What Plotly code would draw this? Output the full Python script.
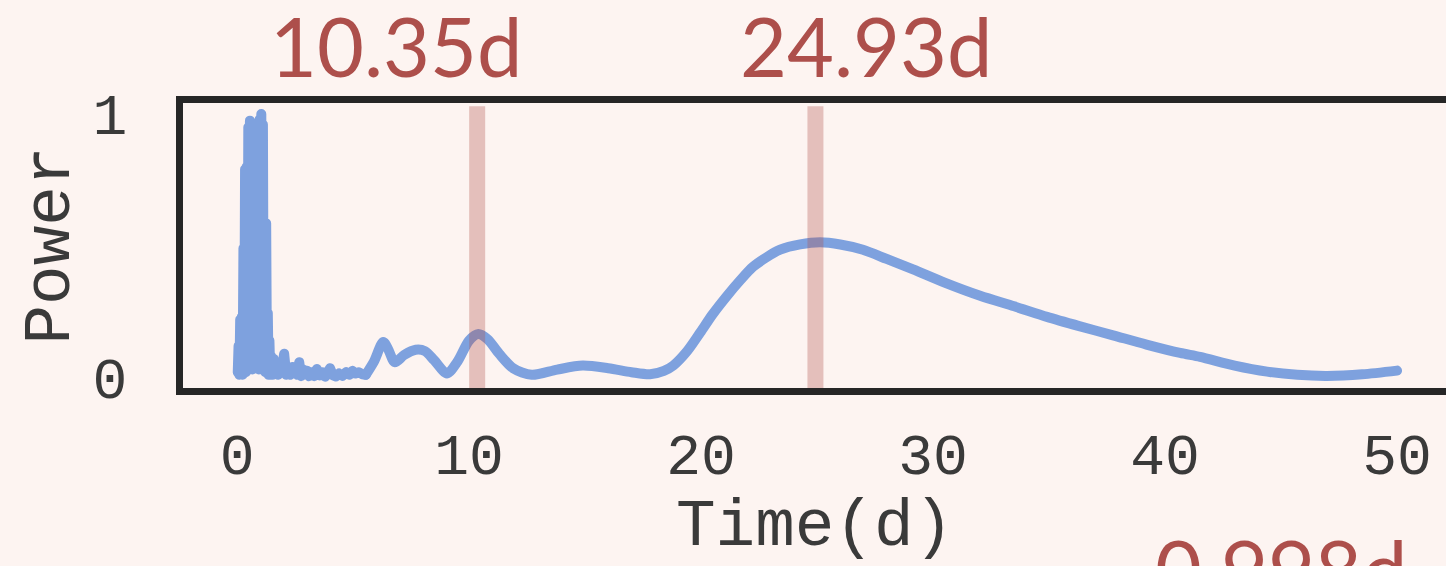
import plotly.graph_objects as go

# Power spectrum: dense short-period region drawn as straight segments,
# the long-period tail drawn as a smooth spline.
period_short = [0.030, 0.065, 0.100, 0.135, 0.170, 0.205, 0.240, 0.275, 0.310, 0.345,
                0.380, 0.415, 0.450, 0.485, 0.520, 0.555, 0.590, 0.625, 0.660, 0.695,
                0.730, 0.765, 0.800, 0.835, 0.870, 0.905, 0.940, 0.975, 1.010, 1.045,
                1.080, 1.115, 1.150, 1.185, 1.220, 1.255, 1.290, 1.325, 1.360, 1.395,
                1.430, 1.470, 1.52, 1.58, 1.64, 1.70, 1.76, 1.82, 1.88, 1.94,
                2.03, 2.12, 2.22, 2.30, 2.38, 2.47, 2.54, 2.60, 2.68, 2.76,
                2.85, 2.93, 3.02, 3.10, 3.22, 3.33, 3.44, 3.56, 3.68, 3.80,
                3.90, 4.01, 4.13, 4.26, 4.40, 4.55, 4.70, 4.85, 4.97, 5.10,
                5.25, 5.40, 5.55]
power_short = [0.02, 0.12, 0.01, 0.22, 0.02, 0.23, 0.01, 0.49, 0.03, 0.79,
               0.02, 0.80, 0.04, 0.95, 0.03, 0.975, 0.05, 0.96, 0.03, 0.90,
               0.15, 0.34, 0.15, 0.60, 0.04, 0.92, 0.03, 0.98, 0.05, 1.00,
               0.04, 0.96, 0.03, 0.585, 0.02, 0.585, 0.02, 0.245, 0.01, 0.14,
               0.02, 0.08, 0.01, 0.07, 0.02, 0.05, 0.01, 0.045, 0.02, 0.04,
               0.09, 0.01, 0.03, 0.01, 0.04, 0.02, 0.03, 0.01, 0.058, 0.005,
               0.03, 0.012, 0.025, 0.005, 0.02, 0.005, 0.032, 0.008, 0.02, 0.003,
               0.02, 0.035, 0.008, 0.004, 0.015, 0.006, 0.02, 0.01, 0.025, 0.015,
               0.02, 0.012, 0.01]

period_long = [5.55, 5.9, 6.3, 6.5, 6.8, 7.2, 7.7, 8.1, 8.5, 9.05,
               9.5, 10.0, 10.4, 10.8, 11.3, 11.9, 12.7, 13.8, 14.9, 16.0,
               17.0, 17.8, 18.4, 18.8, 19.4, 19.96, 20.5, 21.12, 21.7, 22.24,
               22.8, 23.41, 24.27, 25.13, 26.0, 26.98, 28.0, 29.14, 30.5, 32.03,
               33.5, 34.91, 36.3, 37.76, 39.2, 40.65, 41.51, 43.0, 44.4, 45.7,
               46.98, 48.5, 50.0]
power_long = [0.01, 0.06, 0.135, 0.11, 0.058, 0.085, 0.105, 0.10, 0.065, 0.015,
              0.06, 0.14, 0.165, 0.145, 0.09, 0.035, 0.01, 0.03, 0.045, 0.035,
              0.02, 0.012, 0.025, 0.045, 0.10, 0.17, 0.24, 0.31, 0.37, 0.42,
              0.455, 0.485, 0.505, 0.513, 0.505, 0.485, 0.45, 0.41, 0.36, 0.31,
              0.27, 0.23, 0.195, 0.16, 0.125, 0.093, 0.078, 0.045, 0.022, 0.01,
              0.006, 0.012, 0.026]

# Detected periods (days) and where their labels sit
peak_periods = [10.35, 24.93]
peak_labels = ["10.35d", "24.93d", "0.998d"]
label_x = [6.85, 27.11, 45.0]
label_y = [1.2014, 1.2014, -0.634]

x_ticks = [0, 10, 20, 30, 40, 50]
y_ticks = [0, 1]

BG = "#fdf4f1"
BLUE = "#7ea1de"
RED = "#ad4f4b"
FRAME = "#262626"
TEXT = "#3a3a3a"
MONO = "Courier New, Liberation Mono, monospace"

fig = go.Figure()
line_style = dict(color=BLUE, width=10, simplify=False)
fig.add_trace(go.Scatter(x=period_short, y=power_short, mode="lines",
                         line=line_style, showlegend=False, hoverinfo="skip"))
fig.add_trace(go.Scatter(x=period_long, y=power_long, mode="lines",
                         line=dict(line_style, shape="spline", smoothing=0.8),
                         showlegend=False, hoverinfo="skip"))

for p in peak_periods:
    fig.add_shape(type="line", xref="x", yref="y", x0=p, x1=p, y0=-0.07, y1=1.03,
                  line=dict(color="rgba(176,80,75,0.32)", width=16), layer="above")

for txt, lx, ly in zip(peak_labels, label_x, label_y):
    fig.add_annotation(text=txt, x=lx, y=ly, xref="x", yref="paper",
                       showarrow=False, xanchor="center", yanchor="middle",
                       font=dict(family="Lato", size=81, color=RED))

fig.add_annotation(text="Time(d)", x=0.5, y=-0.4897, xref="paper", yref="paper",
                   showarrow=False, xanchor="center", yanchor="middle",
                   font=dict(family=MONO, size=66, color=TEXT))
fig.add_annotation(text="Power", x=-0.1045, y=0.5, xref="paper", yref="paper",
                   showarrow=False, textangle=-90,
                   xanchor="center", yanchor="middle",
                   font=dict(family=MONO, size=66, color=TEXT))

fig.update_layout(
    width=1446, height=566,
    margin=dict(l=183, r=0, t=103, b=177.5, pad=0),
    paper_bgcolor=BG, plot_bgcolor=BG,
    showlegend=False,
)
fig.update_xaxes(range=[-2.33, 52.11], tickvals=x_ticks, showgrid=False, zeroline=False,
                 showline=True, mirror=True, linecolor=FRAME, linewidth=7,
                 ticks="", ticklabelstandoff=9,
                 tickfont=dict(family=MONO, size=58, color=TEXT))
fig.update_yaxes(range=[-0.040, 1.042], tickvals=y_ticks, showgrid=False, zeroline=False,
                 showline=True, mirror=False, linecolor=FRAME, linewidth=7,
                 ticks="", ticklabelstandoff=37,
                 tickfont=dict(family=MONO, size=58, color=TEXT))

# rounded joins and caps on the spectrum strokes
round_joins = """
document.querySelectorAll('.scatterlayer path.js-line').forEach(function (p) {
    p.style.strokeLinejoin = 'round';
    p.style.strokeLinecap = 'round';
});
"""
fig.write_html("out.html", post_script=round_joins)
